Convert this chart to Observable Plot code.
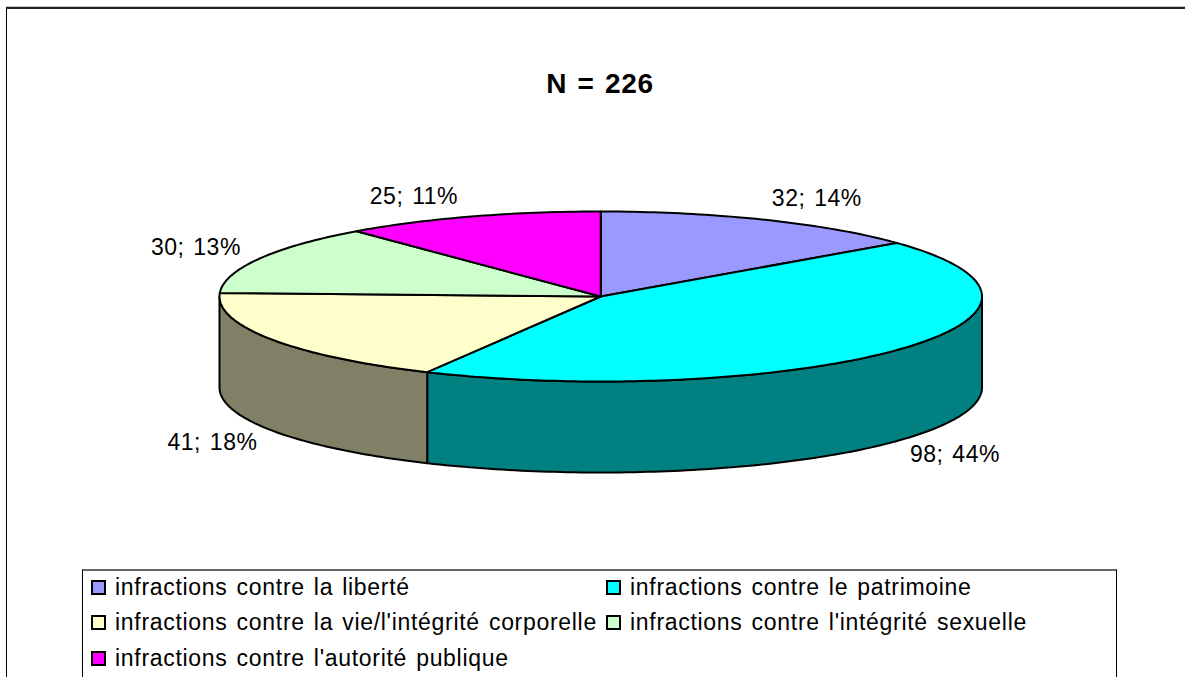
<!DOCTYPE html>
<html lang="fr">
<head>
<meta charset="utf-8">
<script src="https://cdn.jsdelivr.net/npm/d3@7"></script>
<script src="https://cdn.jsdelivr.net/npm/@observablehq/plot@0.6"></script>
<style>
  html, body { margin: 0; padding: 0; background: #fff; overflow: hidden; }
  #page { position: relative; width: 1185px; height: 677px; overflow: hidden; font-family: "Liberation Sans", Arial, sans-serif; color: #000; }
  #page svg { position: absolute; left: 0; top: 0; }
  #page svg text { letter-spacing: 0.5px; word-spacing: 2px; }
  #frame { position: absolute; left: 5.5px; top: 7px; width: 1300px; height: 700px; box-sizing: border-box; border-left: 1.5px solid #000; border-top: 2px solid #000; border-top-color: #222; box-shadow: 0 -0.5px 0 #888; }
  #title { position: absolute; left: 400px; width: 400px; top: 68px; text-align: center; font-weight: bold; font-size: 28px; line-height: 32px; letter-spacing: 0.7px; word-spacing: 2px; }
  #legend { position: absolute; left: 82px; top: 569px; width: 1035px; height: 130px; box-sizing: border-box; border: 1px solid #000; border-top: 2px solid #666; }
  .item { position: absolute; font-size: 23px; line-height: 24px; white-space: nowrap; letter-spacing: 0.7px; word-spacing: 2px; }
  .sw { position: absolute; width: 11px; height: 11px; border: 2px solid #000; left: -24px; top: 5px; }
</style>
</head>
<body>
<div id="page">
  <div id="frame"></div>
  <div id="chart"></div>
  <div id="title"></div>
  <div id="legend"></div>
</div>
<script>
const titleText = "N = 226";
const categories = [
  "infractions contre la liberté",
  "infractions contre le patrimoine",
  "infractions contre la vie/l'intégrité corporelle",
  "infractions contre l'intégrité sexuelle",
  "infractions contre l'autorité publique"
];
const counts = [32, 98, 41, 30, 25];
const percents = [14, 44, 18, 13, 11];
const topColors = ["#9999FF", "#00FFFF", "#FFFFCC", "#CCFFCC", "#FF00FF"];
const wallColors = ["#4D4D80", "#008080", "#808066", "#668066", "#800080"];

// layout of the drawing, kept apart from the data
const depth = 91 / 85;            // wall height, in units of the ellipse's vertical radius
const labelDx = [52, 58, -59, -63, -57];
const labelDy = [-21, 105, 103, -11, -20];
const legendCells = [[32, 4], [547, 4], [32, 39], [547, 39], [32, 75]];

const total = d3.sum(counts);
const toAngle = d3.scaleLinear().domain([0, total]).range([0, 2 * Math.PI]);
const edge = (a, drop = 0) => ({ x: Math.sin(a), y: Math.cos(a) - drop });
const STEP = Math.PI / 180;
const sweep = (a0, a1) => [...d3.range(a0, a1, STEP), a1];

let cum = 0;
const slices = counts.map((v, i) => {
  const a0 = toAngle(cum);
  cum += v;
  const a1 = toAngle(cum);
  return { i, a0, a1, mid: (a0 + a1) / 2 };
});

// top faces: centre, arc, back to centre
const tops = slices.flatMap(s => {
  const pts = [{ x: 0, y: 0 }, ...sweep(s.a0, s.a1).map(a => edge(a)), { x: 0, y: 0 }];
  return pts.map(p => ({ ...p, key: "t" + s.i, color: topColors[s.i] }));
});

// walls: only the part of each slice facing the viewer (90 to 270 degrees)
const walls = slices.flatMap(s => {
  const a0 = Math.max(s.a0, Math.PI / 2), a1 = Math.min(s.a1, 3 * Math.PI / 2);
  if (a1 <= a0) return [];
  const arc = sweep(a0, a1);
  const pts = [...arc.map(a => edge(a)), ...arc.slice().reverse().map(a => edge(a, depth))];
  pts.push(pts[0]);
  return pts.map(p => ({ ...p, key: "w" + s.i, color: wallColors[s.i] }));
});

const labels = slices.map(s => ({
  ...edge(s.mid),
  text: `${counts[s.i]}; ${percents[s.i]}%`,
  i: s.i
}));

const face = data => Plot.line(data, {
  x: "x", y: "y", z: "key", fill: "color",
  stroke: "#000", strokeWidth: 2, strokeLinejoin: "round", curve: "linear"
});

const chart = Plot.plot({
  width: 1185,
  height: 677,
  margin: 0,
  style: { background: "transparent", overflow: "visible" },
  x: { domain: [-1, 1], range: [219, 981.5], axis: null },
  y: { domain: [-1, 1], range: [381, 211], axis: null },
  color: { type: "identity" },
  marks: [
    face(walls),
    face(tops),
    ...labels.map(d => Plot.text([d], {
      x: "x", y: "y", text: "text",
      dx: labelDx[d.i], dy: labelDy[d.i],
      fontSize: 23, fontFamily: "Liberation Sans", fill: "#000"
    }))
  ]
});
document.getElementById("chart").append(chart);

document.getElementById("title").textContent = titleText;
const legend = d3.select("#legend");
categories.forEach((c, i) => {
  const item = legend.append("div").attr("class", "item")
    .style("left", legendCells[i][0] + "px")
    .style("top", legendCells[i][1] + "px");
  item.append("span").attr("class", "sw").style("background", topColors[i]);
  item.append("span").text(c);
});
</script>
</body>
</html>
